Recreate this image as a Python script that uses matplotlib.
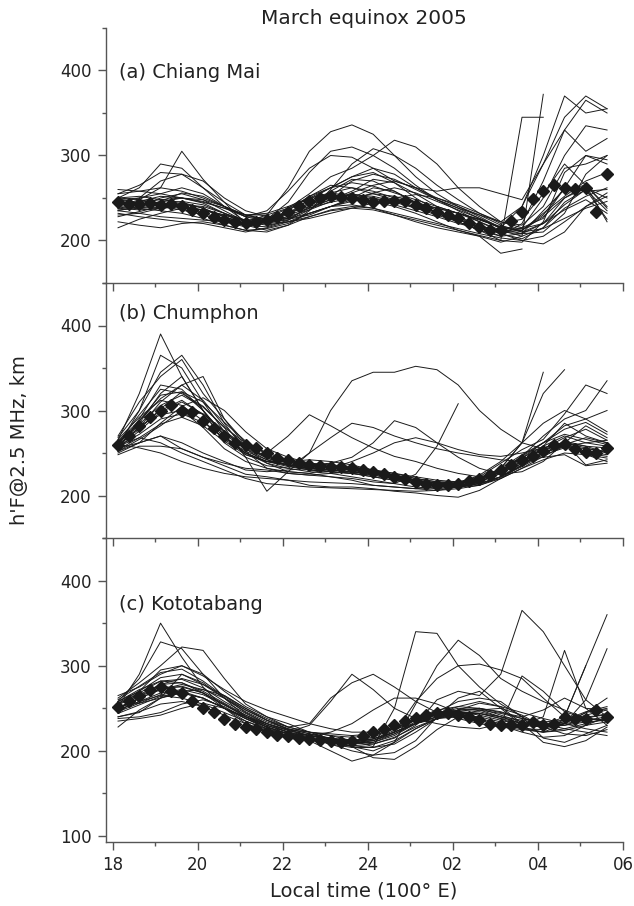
import numpy as np
import matplotlib.pyplot as plt
from matplotlib.ticker import MultipleLocator, FixedLocator

# time grids (local time, hours after 18 LT; 24 = midnight)
t_days = np.arange(18.125, 29.7, 0.5)    # individual nights, 30-min samples
t_mean = np.arange(18.125, 29.7, 0.25)   # mean curve, 15-min samples

N = None

# (a) Chiang Mai: individual nights
chiang_mai = [
    [250, 262, 290, 285, 262, 240, 222, 230, 262, 305, 328, 336, 325, 300, 275, 255, 240, 228, 215, 240, 290, 345, 370, 355],
    [240, 248, 262, 305, 272, 245, 220, 225, 245, 280, 305, 310, 300, 285, 265, 248, 235, 222, 210, 215, 250, 300, 335, 330],
    [235, 240, 250, 255, 248, 235, 222, 226, 238, 255, 275, 285, 300, 318, 310, 290, 262, 240, 222, 240, 300, 370, 350, 355],
    [245, 240, 238, 240, 232, 225, 218, 222, 232, 248, 262, 275, 280, 268, 250, 235, 225, 215, 205, 220, 270, 330, 365, 350],
    [250, 252, 248, 245, 238, 228, 220, 222, 235, 252, 265, 262, 255, 248, 238, 230, 222, 212, 205, 208, 235, 260, 265, 222],
    [230, 232, 238, 242, 240, 232, 224, 226, 232, 240, 248, 258, 272, 268, 255, 240, 232, 225, 215, 212, 232, 252, 270, 280],
    [240, 238, 235, 232, 226, 218, 212, 214, 220, 232, 240, 246, 250, 245, 238, 232, 228, 218, 208, 202, 215, 245, 260, 235],
    [255, 265, 280, 278, 262, 245, 230, 230, 238, 250, 262, 275, 285, 278, 262, 248, 238, 230, 218, 210, 220, 250, 265, 240],
    [232, 228, 225, 222, 220, 215, 210, 215, 222, 232, 240, 242, 238, 230, 222, 215, 210, 205, 185, 190, N, N, N, N],
    [248, 250, 255, 262, 255, 240, 228, 235, 258, 285, 300, 298, 285, 270, 262, 258, 262, 262, 255, 248, 290, 330, 305, 320],
    [238, 242, 245, 250, 248, 240, 230, 225, 230, 238, 245, 250, 262, 258, 245, 232, 222, 212, 200, 198, 222, 280, 300, 295],
    [222, 218, 215, 220, 222, 218, 212, 210, 218, 235, 260, 290, 308, 300, 285, 265, 248, 232, 220, 225, 255, 290, 265, 238],
    [260, 258, 255, 250, 245, 238, 230, 232, 240, 250, 256, 252, 246, 240, 232, 222, 212, 205, 198, 205, 372, N, N, N],
    [245, 250, 270, 278, 270, 250, 235, 228, 225, 230, 240, 250, 255, 252, 245, 238, 232, 225, 215, 212, 230, 262, 258, 260],
    [235, 232, 228, 226, 224, 222, 218, 222, 228, 236, 246, 256, 265, 270, 262, 250, 240, 230, 222, 218, 240, 285, 290, 300],
    [242, 245, 248, 250, 246, 238, 228, 226, 232, 242, 250, 255, 250, 242, 235, 228, 220, 214, 210, 208, 220, 242, 260, 225],
    [215, 225, 232, 238, 236, 230, 222, 218, 222, 228, 235, 238, 236, 230, 224, 218, 212, 206, 200, 345, 345, N, N, N],
    [242, 246, 252, 250, 244, 232, 222, 220, 226, 238, 248, 254, 252, 246, 240, 234, 226, 218, 210, 212, 228, 250, 262, 250],
    [248, 244, 240, 236, 230, 222, 216, 222, 236, 252, 262, 268, 264, 256, 248, 240, 232, 222, 212, 205, 215, 238, 252, 262],
    [236, 238, 242, 246, 242, 232, 218, 212, 218, 228, 236, 240, 238, 232, 226, 220, 214, 208, 203, 200, 205, 222, 240, 252],
    [255, 258, 262, 258, 250, 240, 230, 224, 226, 232, 240, 248, 256, 262, 256, 246, 236, 226, 216, 210, 214, 226, 238, 246],
    [244, 240, 246, 256, 252, 240, 228, 222, 224, 236, 252, 270, 278, 272, 260, 248, 238, 226, 214, 208, 210, 232, 278, 300],
    [228, 234, 240, 244, 238, 228, 220, 224, 232, 244, 256, 262, 258, 250, 244, 238, 232, 224, 216, 214, 220, 236, 248, 232],
    [250, 248, 244, 240, 236, 230, 224, 220, 222, 226, 232, 238, 244, 250, 254, 250, 242, 232, 222, 215, 226, 262, 300, 290],
    [238, 236, 238, 240, 236, 228, 218, 216, 224, 240, 258, 272, 270, 258, 244, 232, 224, 216, 208, 200, 196, 210, 240, 256],
]
chiang_mai_mean = [245, 243, 243, 244, 242, 243, 240, 236, 232, 228, 224, 222, 221, 222, 224, 228,
                   234, 240, 246, 250, 252, 251, 250, 248, 245, 247, 247, 246, 242, 238, 234, 230,
                   226, 221, 216, 212, 212, 223, 234, 249, 258, 265, 262, 260, 262, 234, 278]

# (b) Chumphon
chumphon = [
    [262, 285, 320, 340, 300, 270, 250, 238, 232, 250, 300, 335, 345, 345, 352, 348, 330, 300, 278, 262, 255, 258, 262, 265],
    [258, 300, 365, 350, 310, 275, 255, 242, 235, 230, 228, 226, 222, 218, 215, 212, 212, 218, 232, 262, 345, N, N, N],
    [265, 320, 390, 340, 300, 262, 245, 235, 232, 228, 226, 222, 218, 214, 210, 208, 210, 216, 228, 246, 270, 290, 300, 335],
    [255, 290, 330, 325, 300, 270, 248, 240, 236, 232, 230, 228, 226, 222, 218, 215, 215, 220, 232, 248, 262, 282, 290, 300],
    [260, 280, 300, 312, 295, 268, 250, 240, 240, 242, 240, 236, 230, 224, 218, 214, 214, 218, 228, 240, 258, 285, 270, 262],
    [252, 262, 270, 262, 250, 240, 230, 228, 230, 232, 234, 232, 228, 222, 216, 212, 210, 214, 222, 235, 250, 262, 256, 250],
    [248, 258, 258, 255, 245, 235, 225, 222, 218, 212, 210, 210, 208, 205, 203, 200, 198, 206, 220, 232, 242, 250, 248, 240],
    [270, 310, 340, 360, 320, 290, 262, 250, 270, 295, 282, 268, 256, 246, 240, 232, 226, 222, 228, 242, 255, 268, 278, 265],
    [262, 295, 325, 320, 305, 280, 245, 205, 228, 250, 268, 285, 280, 270, 262, 255, 250, 246, 242, 240, 245, 248, 235, 238],
    [258, 280, 310, 330, 340, 290, 258, 245, 240, 236, 238, 245, 262, 288, 280, 262, 245, 232, 225, 228, 240, 262, 282, 268],
    [256, 262, 270, 255, 245, 238, 232, 230, 226, 224, 222, 220, 216, 214, 225, 258, 308, N, N, N, N, N, N, N],
    [254, 288, 318, 322, 300, 272, 255, 238, 228, 226, 232, 240, 250, 262, 268, 262, 254, 248, 246, 250, 256, 262, 248, 244],
    [268, 300, 345, 365, 330, 285, 252, 232, 226, 224, 226, 228, 226, 222, 218, 214, 214, 224, 240, 262, 285, 300, 290, 275],
    [262, 282, 295, 300, 280, 255, 240, 232, 228, 226, 222, 218, 212, 210, 208, 206, 208, 212, 222, 238, 256, 262, 236, 242],
    [250, 262, 285, 305, 315, 300, 275, 255, 245, 238, 235, 232, 230, 226, 222, 218, 216, 222, 238, 254, 266, 296, 330, 320],
    [258, 268, 262, 250, 240, 230, 220, 214, 212, 210, 209, 208, 207, 206, 205, 206, 210, 216, 226, 238, 250, 258, 255, 252],
    [260, 256, 250, 240, 232, 226, 222, 220, 218, 216, 215, 214, 212, 210, 208, 210, 214, 220, 232, 262, 320, 348, N, N],
    [256, 276, 298, 310, 296, 275, 256, 244, 238, 234, 232, 230, 226, 222, 216, 212, 212, 216, 226, 240, 254, 262, 258, 256],
    [262, 284, 306, 318, 304, 280, 262, 250, 242, 236, 232, 230, 228, 224, 220, 216, 214, 218, 228, 244, 258, 270, 262, 258],
    [258, 272, 290, 296, 286, 268, 252, 242, 236, 232, 230, 228, 224, 220, 214, 210, 210, 214, 222, 236, 250, 260, 268, 262],
    [254, 268, 284, 292, 282, 264, 248, 240, 236, 234, 234, 232, 228, 224, 218, 214, 212, 214, 220, 232, 246, 258, 252, 248],
    [266, 292, 312, 306, 288, 266, 250, 240, 234, 230, 228, 226, 222, 218, 214, 212, 214, 220, 230, 246, 262, 272, 266, 260],
    [260, 278, 302, 322, 310, 286, 264, 248, 238, 232, 230, 228, 226, 222, 218, 214, 212, 214, 222, 234, 248, 256, 250, 246],
    [252, 266, 282, 300, 296, 276, 258, 246, 240, 238, 236, 234, 230, 226, 220, 216, 216, 220, 230, 244, 262, 278, 286, 272],
    [264, 288, 314, 330, 312, 282, 258, 244, 236, 232, 228, 226, 224, 220, 216, 212, 210, 212, 220, 236, 252, 264, 258, 250],
]
chumphon_mean = [260, 270, 282, 292, 300, 306, 300, 298, 288, 280, 270, 262, 260, 256, 250, 244,
                 242, 238, 236, 235, 234, 234, 232, 230, 228, 225, 222, 219, 216, 214, 212, 212,
                 214, 217, 220, 224, 230, 236, 242, 246, 252, 260, 261, 255, 251, 250, 256]

# (c) Kototabang
kototabang = [
    [252, 290, 350, 310, 275, 250, 232, 222, 215, 212, 210, 212, 205, 250, 340, 338, 300, 275, 255, 240, 228, 232, 245, 250],
    [258, 285, 328, 320, 290, 262, 240, 228, 220, 215, 210, 205, 200, 210, 255, 300, 330, 312, 285, 270, 258, 248, 238, 235],
    [262, 280, 300, 322, 318, 285, 255, 240, 228, 222, 218, 212, 208, 215, 230, 260, 270, 265, 290, 365, 340, 300, 260, 240],
    [245, 262, 278, 285, 278, 265, 250, 238, 228, 232, 262, 280, 290, 275, 258, 245, 238, 232, 228, 225, 222, 232, 260, 320],
    [250, 265, 275, 275, 268, 255, 240, 230, 222, 218, 215, 212, 212, 222, 258, 285, 300, 302, 295, 285, 262, 240, 300, N],
    [240, 245, 262, 290, 280, 262, 245, 232, 222, 215, 208, 200, 195, 198, 212, 240, 262, 270, 250, 230, 240, 318, 250, 230],
    [238, 240, 245, 255, 260, 252, 238, 226, 218, 214, 212, 210, 212, 220, 232, 238, 240, 238, 232, 226, 225, 232, 245, 262],
    [255, 268, 282, 280, 268, 250, 235, 225, 218, 214, 210, 206, 204, 208, 222, 238, 248, 250, 246, 238, 232, 226, 222, 218],
    [228, 248, 262, 268, 262, 250, 240, 232, 225, 222, 220, 218, 220, 228, 236, 244, 252, 258, 252, 232, 210, 205, 212, 228],
    [265, 275, 290, 300, 290, 270, 252, 240, 232, 222, 214, 205, 192, 190, 205, 225, 240, 248, 250, 242, 228, 220, 218, 225],
    [248, 258, 265, 262, 255, 245, 235, 226, 220, 218, 222, 232, 248, 262, 262, 255, 245, 236, 230, 222, 216, 218, 230, 240],
    [240, 246, 255, 258, 252, 242, 232, 224, 218, 212, 200, 188, 195, 210, 226, 238, 246, 250, 245, 240, 248, 262, 250, 248],
    [258, 270, 295, 300, 288, 272, 258, 248, 240, 232, 226, 222, 222, 226, 232, 240, 248, 256, 252, 245, 238, 232, 226, 222],
    [252, 256, 262, 270, 272, 265, 250, 236, 225, 218, 212, 208, 210, 220, 232, 246, 258, 262, 258, 240, 215, 210, 220, 230],
    [250, 262, 272, 278, 272, 262, 248, 236, 226, 220, 215, 212, 214, 222, 232, 240, 245, 246, 240, 232, 230, 240, 300, 360],
    [235, 238, 242, 250, 256, 250, 240, 230, 222, 230, 258, 290, 272, 250, 238, 232, 228, 226, 232, 288, 270, 246, 238, 236],
    [254, 266, 278, 280, 270, 256, 242, 230, 222, 216, 212, 210, 214, 224, 236, 244, 246, 244, 238, 232, 230, 232, 236, 240],
    [250, 262, 272, 276, 268, 254, 240, 228, 220, 214, 210, 208, 212, 222, 234, 242, 246, 242, 236, 230, 228, 230, 238, 244],
    [258, 272, 282, 284, 274, 258, 244, 232, 224, 218, 214, 212, 216, 226, 238, 248, 252, 250, 242, 234, 230, 234, 242, 248],
    [246, 256, 266, 270, 262, 250, 238, 228, 220, 214, 210, 206, 208, 216, 228, 238, 242, 240, 234, 226, 222, 226, 232, 238],
    [256, 270, 286, 290, 278, 262, 246, 234, 226, 220, 214, 210, 210, 218, 232, 244, 250, 248, 240, 232, 228, 236, 246, 252],
    [248, 258, 268, 272, 266, 254, 242, 232, 224, 218, 214, 212, 214, 222, 232, 240, 244, 244, 240, 236, 232, 230, 234, 236],
    [244, 254, 264, 268, 262, 250, 238, 228, 220, 214, 208, 204, 204, 212, 226, 238, 244, 244, 238, 228, 222, 224, 230, 234],
    [260, 276, 292, 296, 282, 264, 248, 236, 228, 222, 218, 216, 218, 226, 236, 244, 248, 248, 244, 238, 234, 236, 240, 242],
]
kototabang_mean = [252, 258, 264, 272, 275, 270, 268, 258, 250, 246, 238, 232, 228, 226, 222, 219,
                   217, 215, 214, 213, 212, 211, 212, 217, 222, 226, 230, 235, 239, 242, 244, 244,
                   242, 240, 236, 232, 230, 230, 230, 234, 230, 232, 240, 238, 238, 248, 240]

panels = [
    ("(a) Chiang Mai", chiang_mai, chiang_mai_mean, (150, 450), 0.824),
    ("(b) Chumphon", chumphon, chumphon_mean, (150, 450), 0.882),
    ("(c) Kototabang", kototabang, kototabang_mean, (93, 450), 0.78),
]

W, H = 634, 906
left, right = 105.7, 623.0
edges = [(28, 283), (283, 538), (538, 842)]   # top/bottom pixel rows of each panel

spine_col = "#555555"
text_col = "#222222"

fig = plt.figure(figsize=(W / 100, H / 100), dpi=100, facecolor="white")

for i, ((label, nights, mean, ylim, ly), (top, bot)) in enumerate(zip(panels, edges)):
    ax = fig.add_axes([left / W, 1 - bot / H, (right - left) / W, (bot - top) / H])
    ax.patch.set_visible(False)
    for night in nights:
        ax.plot(t_days, np.array(night, dtype=float), color="#1a1a1a", lw=0.7)
    ax.plot(t_mean, mean, ls="none", marker="D", ms=6.5, color="#1a1a1a", zorder=5)

    ax.set_xlim(17.835, 30)
    ax.set_ylim(*ylim)
    for s in ("top", "right"):
        ax.spines[s].set_visible(False)
    for s in ("left", "bottom"):
        ax.spines[s].set_color(spine_col)
        ax.spines[s].set_linewidth(1.0)

    ax.xaxis.set_major_locator(FixedLocator([18, 20, 22, 24, 26, 28, 30]))
    ax.xaxis.set_minor_locator(MultipleLocator(1))
    ax.yaxis.set_major_locator(MultipleLocator(100))
    ax.yaxis.set_minor_locator(MultipleLocator(50))
    ax.tick_params(which="major", direction="out", length=6, width=1.0, color=spine_col,
                   labelsize=12, labelcolor=text_col, pad=4)
    ax.tick_params(which="minor", direction="out", length=3, width=1.0, color=spine_col)
    ax.set_yticks([v for v in (100, 200, 300, 400) if v > ylim[0]])
    if i < 2:
        ax.tick_params(axis="x", labelbottom=False)
    else:
        ax.set_xticklabels(["18", "20", "22", "24", "02", "04", "06"])

    ax.text(0.026, ly, label, transform=ax.transAxes, ha="left", va="center",
            fontsize=14, color=text_col)

fig.text(364 / W, 1 - 19 / H, "March equinox 2005", ha="center", va="center",
         fontsize=14.5, color=text_col)
fig.text(364 / W, 1 - 891 / H, "Local time (100° E)", ha="center", va="center",
         fontsize=14, color=text_col)
fig.text(20 / W, 1 - 440 / H, "h'F@2.5 MHz, km", ha="center", va="center",
         rotation=90, fontsize=14, color=text_col)

fig.savefig("out.png", dpi=100, facecolor="white")
plt.close(fig)
